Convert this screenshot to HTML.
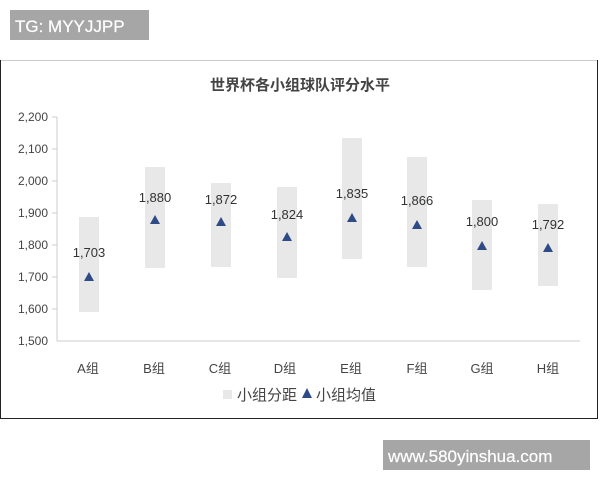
<!DOCTYPE html>
<html><head><meta charset="utf-8"><style>
body{margin:0;width:600px;height:480px;background:#fff;overflow:hidden;font-family:"Liberation Sans","Noto Sans CJK SC",sans-serif;}
</style></head><body>
<svg width="600" height="480" xmlns="http://www.w3.org/2000/svg" font-family="Liberation Sans, Noto Sans CJK SC, sans-serif">
<rect x="10" y="10" width="139" height="30" fill="#a6a6a6"/>
<text x="15" y="32" font-size="17" fill="#fff" stroke="#fff" stroke-width="0.2">TG: MYYJJPP</text>
<line x1="0" y1="60.5" x2="598" y2="60.5" stroke="#ccc"/>
<path d="M0.5 60 V418.5 H597.5 V60" fill="none" stroke="#222"/>
<text x="300" y="90" font-size="15" font-weight="bold" fill="#444" text-anchor="middle">世界杯各小组球队评分水平</text>
<g font-size="12" fill="#444" text-anchor="end">
<text x="48" y="121">2,200</text><text x="48" y="153">2,100</text><text x="48" y="185">2,000</text><text x="48" y="217">1,900</text><text x="48" y="249">1,800</text><text x="48" y="281">1,700</text><text x="48" y="313">1,600</text><text x="48" y="345">1,500</text>
</g>
<g stroke="#ccc">
<line x1="57" y1="117" x2="57" y2="341"/>
<line x1="57" y1="341" x2="580" y2="341"/>
<line x1="52" y1="117" x2="57" y2="117"/><line x1="52" y1="149" x2="57" y2="149"/><line x1="52" y1="181" x2="57" y2="181"/><line x1="52" y1="213" x2="57" y2="213"/><line x1="52" y1="245" x2="57" y2="245"/><line x1="52" y1="277" x2="57" y2="277"/><line x1="52" y1="309" x2="57" y2="309"/>
</g>
<g fill="#e8e8e8">
<rect x="79" y="217" width="20" height="95"/>
<rect x="145" y="167" width="20" height="101"/>
<rect x="211" y="183" width="20" height="84"/>
<rect x="277" y="187" width="20" height="91"/>
<rect x="342" y="138" width="20" height="121"/>
<rect x="407" y="157" width="20" height="110"/>
<rect x="472" y="200" width="20" height="90"/>
<rect x="538" y="204" width="20" height="82"/>
</g>
<g fill="#2e4a87">
<path d="M89 272 L84 281 L94 281Z"/>
<path d="M155 215 L150 224 L160 224Z"/>
<path d="M221 217 L216 226 L226 226Z"/>
<path d="M287 232 L282 241 L292 241Z"/>
<path d="M352 213 L347 222 L357 222Z"/>
<path d="M417 220 L412 229 L422 229Z"/>
<path d="M482 241 L477 250 L487 250Z"/>
<path d="M548 243 L543 252 L553 252Z"/>
</g>
<g font-size="13" fill="#333" text-anchor="middle">
<text x="89" y="257">1,703</text>
<text x="155" y="202">1,880</text>
<text x="221" y="204">1,872</text>
<text x="287" y="219">1,824</text>
<text x="352" y="198">1,835</text>
<text x="417" y="205">1,866</text>
<text x="482" y="226">1,800</text>
<text x="548" y="229">1,792</text>
</g>
<g font-size="13" fill="#444" text-anchor="middle">
<text x="88" y="373">A组</text><text x="154" y="373">B组</text><text x="220" y="373">C组</text><text x="285" y="373">D组</text><text x="351" y="373">E组</text><text x="417" y="373">F组</text><text x="482" y="373">G组</text><text x="548" y="373">H组</text>
</g>
<rect x="223" y="390" width="9" height="9" fill="#e8e8e8"/>
<text x="237" y="400" font-size="15" fill="#444">小组分距</text>
<path d="M307 388 L302 398 L312 398Z" fill="#2e4a87"/>
<text x="316" y="400" font-size="15" fill="#444">小组均值</text>
<rect x="383" y="440" width="207" height="30" fill="#a6a6a6"/>
<text x="388" y="462" font-size="17" fill="#fff" stroke="#fff" stroke-width="0.2">www.580yinshua.com</text>
</svg>
</body></html>
